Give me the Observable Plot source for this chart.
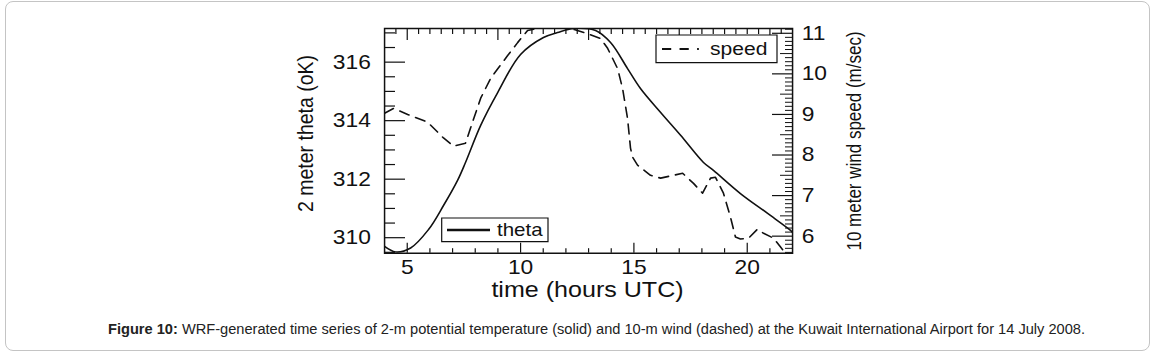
<!DOCTYPE html>
<html><head><meta charset="utf-8">
<script src="https://cdn.jsdelivr.net/npm/d3@7"></script>
<script src="https://cdn.jsdelivr.net/npm/@observablehq/plot@0.6"></script>
<style>
html,body{margin:0;padding:0;background:#fff;}
body{width:1158px;height:355px;position:relative;overflow:hidden;font-family:"Liberation Sans",Arial,Helvetica,sans-serif;}
#card{position:absolute;left:5px;top:1px;width:1145px;height:350px;border:1px solid #c4c4c4;border-radius:8px;box-sizing:border-box;}
#chart{position:absolute;left:0;top:0;}
#chart svg path,#chart svg line,#chart svg rect{vector-effect:non-scaling-stroke;}
#caption{position:absolute;left:108px;top:321px;white-space:nowrap;font-size:14px;line-height:16px;color:#222;transform-origin:0 50%;}
</style></head><body>
<div id="card"></div>
<div id="chart"></div>
<div id="caption"><b>Figure 10:</b> WRF-generated time series of 2-m potential temperature (solid) and 10-m wind (dashed) at the Kuwait International Airport for 14 July 2008.</div>
<script>
// ---- data ----
const thetaHours = [4.0, 4.49, 5.15, 5.94, 6.60, 7.22, 7.57, 8.24, 8.99, 10.0, 11.01, 11.63, 12.34, 13.31, 13.97, 14.72, 15.29, 16.18, 17.06, 18.07, 18.51, 19.70, 20.90, 21.91, 22.0];
const thetaValues = [309.70, 309.51, 309.65, 310.28, 311.10, 311.96, 312.57, 313.84, 314.96, 316.26, 316.84, 317.01, 317.15, 317.08, 316.67, 315.78, 315.10, 314.28, 313.50, 312.57, 312.30, 311.51, 310.83, 310.25, 310.18];
const speedHours = [4.0, 4.40, 5.02, 5.90, 6.60, 7.04, 7.57, 7.79, 8.24, 8.68, 9.43, 9.87, 10.31, 10.88, 11.5, 12.2, 12.96, 13.53, 13.84, 14.28, 14.50, 14.72, 14.85, 14.94, 15.16, 15.73, 16.18, 16.75, 17.15, 17.63, 18.03, 18.38, 18.60, 18.95, 19.26, 19.48, 19.70, 20.06, 20.45, 20.72, 21.16, 21.47, 21.69];
const speedValues = [9.03, 9.15, 9.00, 8.81, 8.42, 8.22, 8.29, 8.66, 9.40, 9.89, 10.45, 10.77, 11.07, 11.13, 11.16, 11.12, 10.99, 10.87, 10.63, 10.13, 9.64, 8.90, 8.17, 7.95, 7.75, 7.50, 7.43, 7.50, 7.55, 7.30, 7.06, 7.43, 7.45, 7.06, 6.47, 5.98, 5.93, 5.95, 6.17, 6.07, 5.95, 5.73, 5.58];
const xTickLabels = [5, 10, 15, 20];
const thetaTickLabels = [310, 312, 314, 316];
const speedTickLabels = [6, 7, 8, 9, 10, 11];
const xDomain = [4, 22];
const thetaDomain = [309.47, 317.15];
const speedDomain = [5.58, 11.118];
const seriesNames = ["theta", "speed"];
const labels = {x: "time (hours UTC)", left: "2 meter theta (oK)", right: "10 meter wind speed (m/sec)"};

// ---- layout ----
const DISPLAY_W = 1158;
const W = 1016, H = 310;
const k = DISPLAY_W / W; // horizontal stretch of the reference
const mL = 384 / k, mR = (DISPLAY_W - 792) / k, mT = 28, mB = H - 252.7;
const innerW = W - mL - mR, innerH = H - mT - mB;
const ink = "#111";

const sToT = s => thetaDomain[0] + (s - speedDomain[0]) * (thetaDomain[1] - thetaDomain[0]) / (speedDomain[1] - speedDomain[0]);
const tToS = t => speedDomain[0] + (t - thetaDomain[0]) * (speedDomain[1] - speedDomain[0]) / (thetaDomain[1] - thetaDomain[0]);

const thetaRows = thetaHours.map((h, i) => ({h, v: thetaValues[i]}));
const speedRows = speedHours.map((h, i) => ({h, v: speedValues[i]}));

const bottomMinor = d3.range(5, 22, 1).filter(v => !xTickLabels.includes(v));
const topMajor = d3.range(5, 22, 4);
const topMinor = d3.range(4.5, 22, 0.5).filter(v => !topMajor.includes(v));
const leftMinor = d3.range(309.5, 317.01, 0.5).filter(v => !thetaTickLabels.includes(v));
const rightAll = d3.range(56, 112, 1).map(v => v / 10);
const rightMinor = rightAll.filter(v => Math.abs(v * 2 - Math.round(v * 2)) > 1e-6);
const rightHalf = rightAll.filter(v => Math.abs(v * 2 - Math.round(v * 2)) < 1e-6 && Math.abs(v - Math.round(v)) > 1e-6);

const svg = Plot.plot({
  width: W, height: H,
  marginLeft: mL, marginRight: mR, marginTop: mT, marginBottom: mB,
  style: {fontFamily: '"Liberation Sans", Arial, Helvetica, sans-serif', fontSize: "20px", color: ink, background: "transparent"},
  x: {domain: xDomain},
  y: {domain: thetaDomain},
  marks: [
    Plot.line(thetaRows, {x: "h", y: "v", stroke: ink, strokeWidth: 1.6, curve: "catmull-rom", clip: true}),
    Plot.line(speedRows, {x: "h", y: d => sToT(d.v), stroke: ink, strokeWidth: 1.6, strokeDasharray: "10,7", clip: true}),
    // bottom ticks (inward)
    Plot.tickX(bottomMinor, {x: d => d, insetTop: innerH - 4.5, stroke: ink, strokeWidth: 1.2}),
    Plot.tickX(xTickLabels, {x: d => d, insetTop: innerH - 10, stroke: ink, strokeWidth: 1.2}),
    // top ticks
    Plot.tickX(topMinor, {x: d => d, insetBottom: innerH - 6, stroke: ink, strokeWidth: 1.2}),
    Plot.tickX(topMajor, {x: d => d, insetBottom: innerH - 12, stroke: ink, strokeWidth: 1.2}),
    // left ticks
    Plot.tickY(leftMinor, {y: d => d, insetRight: innerW - 11 / k, stroke: ink, strokeWidth: 1.2}),
    Plot.tickY(thetaTickLabels, {y: d => d, insetRight: innerW - 21 / k, stroke: ink, strokeWidth: 1.2}),
    // right ticks (wind speed)
    Plot.tickY(rightMinor, {y: d => sToT(d), insetLeft: innerW - 7 / k, stroke: ink, strokeWidth: 1}),
    Plot.tickY(rightHalf, {y: d => sToT(d), insetLeft: innerW - 12 / k, stroke: ink, strokeWidth: 1}),
    Plot.tickY(speedTickLabels, {y: d => sToT(d), insetLeft: innerW - 20 / k, stroke: ink, strokeWidth: 1.2}),
    Plot.frame({stroke: ink, strokeWidth: 1.5}),
    Plot.axisX(xTickLabels, {anchor: "bottom", tickSize: 0, tickPadding: 7, label: null, fill: ink}),
    Plot.axisY(thetaTickLabels, {anchor: "left", tickSize: 0, tickPadding: 12, label: null, fill: ink}),
    Plot.axisY(speedTickLabels.map(sToT), {anchor: "right", tickSize: 0, tickPadding: 8, label: null, fill: ink, tickFormat: t => String(Math.round(tToS(t)))})
  ]
});

// extra text and legends (in plot units; x is divided by k because the svg is stretched)
const g = d3.select(svg).append("g").attr("font-family", '"Liberation Sans", Arial, Helvetica, sans-serif').attr("fill", ink);
g.append("text").attr("text-anchor", "middle").attr("font-size", 22)
  .attr("x", 587.5 / k).attr("y", 297).text(labels.x);
g.append("text").attr("text-anchor", "middle").attr("dominant-baseline", "central").attr("font-size", 19.5)
  .attr("transform", `translate(${305 / k},${133.5}) rotate(-90)`).text(labels.left);
g.append("text").attr("text-anchor", "middle").attr("dominant-baseline", "central").attr("font-size", 17)
  .attr("transform", `translate(${855 / k},${141}) rotate(-90)`).text(labels.right);

// theta legend
const lg1 = g.append("g");
lg1.append("rect").attr("x", 441.7 / k).attr("y", 218).attr("width", (548 - 441.7) / k).attr("height", 23.7)
  .attr("fill", "#fff").attr("stroke", ink).attr("stroke-width", 1.2);
lg1.append("line").attr("x1", 447 / k).attr("x2", 490 / k).attr("y1", 230).attr("y2", 230)
  .attr("stroke", ink).attr("stroke-width", 2.6);
lg1.append("text").attr("text-anchor", "start").attr("x", 497 / k).attr("y", 236.5).attr("font-size", 18).text(seriesNames[0]);

// speed legend
const lg2 = g.append("g");
lg2.append("rect").attr("x", 656 / k).attr("y", 35).attr("width", (777 - 656) / k).attr("height", 27.7)
  .attr("fill", "#fff").attr("stroke", ink).attr("stroke-width", 1.2);
lg2.append("line").attr("x1", 662 / k).attr("x2", 705 / k).attr("y1", 49).attr("y2", 49)
  .attr("stroke", ink).attr("stroke-width", 2).attr("stroke-dasharray", `${10.5 / k},${9.5 / k},${10.5 / k},${9.5 / k},${2 / k},100`);
lg2.append("text").attr("text-anchor", "start").attr("x", 710 / k).attr("y", 55.5).attr("font-size", 18.5).text(seriesNames[1]);

// stretch horizontally like the reference image
svg.setAttribute("viewBox", `0 0 ${W} ${H}`);
svg.setAttribute("preserveAspectRatio", "none");
svg.setAttribute("width", DISPLAY_W);
svg.setAttribute("height", H);
svg.style.width = DISPLAY_W + "px";
svg.style.height = H + "px";
svg.style.maxWidth = "none";
svg.style.overflow = "visible";
document.getElementById("chart").appendChild(svg);

// fit caption to the reference width (108 -> 1085)
const cap = document.getElementById("caption");
const cw = cap.getBoundingClientRect().width;
cap.style.transform = `scaleX(${(1085 - 108) / cw})`;
</script>
</body></html>
